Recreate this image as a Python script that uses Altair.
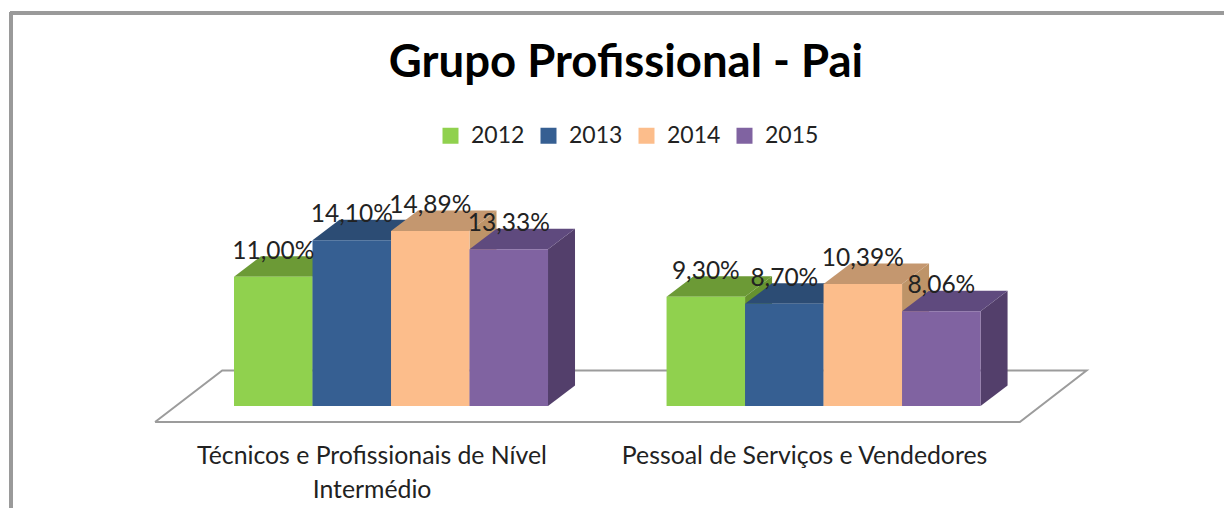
import altair as alt
import pandas as pd

title_text = "Grupo Profissional - Pai"
years = ["2012", "2013", "2014", "2015"]
categories = ["Técnicos e Profissionais de Nível\nIntermédio", "Pessoal de Serviços e Vendedores"]
group_values = [
    [11.00, 14.10, 14.89, 13.33],
    [9.30, 8.70, 10.39, 8.06],
]

front_colors = ["#90D14E", "#365F92", "#FCBD8B", "#8063A1"]
top_colors = ["#6C9A36", "#2C4C74", "#C4976F", "#5F4A7E"]
side_colors = ["#66922F", "#2A4666", "#BE9468", "#533F6B"]
FONT = "Lato"

# Layout in data units: one unit of x is one bar width
group_start = [0.0, 5.51]
depth_x, depth_y = 0.344, 1.745
floor_x = [-1.006, 10.01, 10.86, -0.15, -1.006]
floor_y = [-1.36, -1.36, 3.02, 3.02, -1.36]

bars, side, top, cats = [], [], [], []
for g, vals in enumerate(group_values):
    cats.append({"x": group_start[g] + 2, "label": categories[g]})
    for i, v in enumerate(vals):
        u = group_start[g] + i
        key = f"{g}-{i}"
        bars.append({"key": key, "year": years[i], "x0": u, "x1": u + 1, "xm": u + 0.5, "v": v,
                     "base": 0.0, "label": f"{v:.2f}".replace(".", ",") + "%"})
        side.append({"key": key, "year": years[i], "x": u + 1, "lo": 0.0, "hi": v})
        side.append({"key": key, "year": years[i], "x": u + 1 + depth_x, "lo": depth_y, "hi": v + depth_y})
        top.append({"key": key, "year": years[i], "y": v, "a": u, "b": u + 1})
        top.append({"key": key, "year": years[i], "y": v + depth_y, "a": u + depth_x, "b": u + 1 + depth_x})

bars = pd.DataFrame(bars)
side = pd.DataFrame(side)
top = pd.DataFrame(top)
cats = pd.DataFrame(cats)
floor = pd.DataFrame({"x": floor_x, "y": floor_y, "o": range(len(floor_x))})

xs = alt.Scale(domain=[-2.879, 12.611], nice=False, zero=False)
ys = alt.Scale(domain=[-8.681, 33.872], nice=False, zero=False)
X = lambda f: alt.X(f, type="quantitative", scale=xs, axis=None)
Y = lambda f: alt.Y(f, type="quantitative", scale=ys, axis=None)

frame_left = alt.Chart(bars).mark_rule(color="#9A9A9A", strokeWidth=3).encode(
    x=alt.value(3), y=alt.value(4), y2=alt.value(500))
frame_top = alt.Chart(bars).mark_rule(color="#9A9A9A", strokeWidth=3).encode(
    x=alt.value(2), x2=alt.value(1216), y=alt.value(5))

floor_line = alt.Chart(floor).mark_line(color="#9C9C9C", strokeWidth=2).encode(
    x=X("x"), y=Y("y"), order="o:Q")

side_layer = alt.Chart(side).mark_area(opacity=1).encode(
    x=X("x"), y=Y("lo"), y2="hi:Q", detail="key:N",
    color=alt.Color("year:N", scale=alt.Scale(domain=years, range=side_colors), legend=None))

top_layer = alt.Chart(top).mark_area(opacity=1, orient="horizontal").encode(
    y=Y("y"), x=X("a"), x2="b:Q", detail="key:N",
    color=alt.Color("year:N", scale=alt.Scale(domain=years, range=top_colors), legend=None))

front_layer = alt.Chart(bars).mark_rect().encode(
    x=X("x0"), x2="x1:Q", y=Y("base"), y2="v:Q",
    color=alt.Color("year:N", scale=alt.Scale(domain=years, range=front_colors),
                    legend=alt.Legend(title=None, orient="none", legendX=431, legendY=116,
                                      direction="horizontal", columns=4, symbolType="square",
                                      symbolSize=256, symbolStrokeWidth=0, labelFont=FONT,
                                      labelFontSize=23, labelColor="#222222", labelOffset=9,
                                      columnPadding=12, labelLimit=200)))

labels = alt.Chart(bars).mark_text(font=FONT, fontSize=24.5, color="#222222", baseline="middle", dy=-25).encode(
    x=X("xm"), y=Y("v"), text="label:N")

cat_text = alt.Chart(cats).mark_text(font=FONT, fontSize=24.8, color="#222222", baseline="middle",
                                     lineBreak="\n", lineHeight=34, dx=-19).encode(
    x=X("x"), y=alt.value(449), text="label:N")

chart = alt.layer(frame_left, frame_top, floor_line, side_layer, top_layer, front_layer, labels, cat_text).resolve_scale(
    color="independent"
).properties(
    width=1216, height=500,
    padding=0, autosize=alt.AutoSizeParams(type="none"),
    title=alt.TitleParams(title_text, font=FONT, fontSize=45.5, fontWeight="bold", color="#000000",
                          anchor="middle", baseline="alphabetic", dx=10, dy=114, offset=0),
).configure_view(stroke=None)

chart.save("out.html", embed_options={"renderer": "svg", "actions": False})
